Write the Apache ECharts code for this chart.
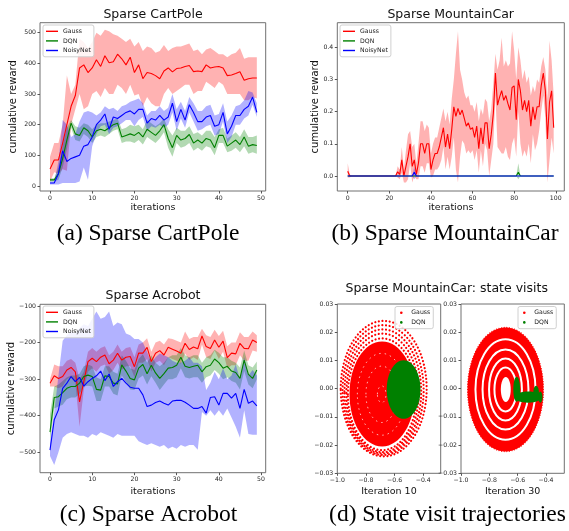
<!DOCTYPE html>
<html><head><meta charset="utf-8">
<script src="https://cdn.jsdelivr.net/npm/echarts@6/dist/echarts.min.js"></script>
<style>html,body{margin:0;padding:0;background:#fff}#c{width:569px;height:531px}</style>
</head><body><div id="c"></div>
<script>
// ---------- (a) Sparse CartPole ----------
const gaussA   = [55,85,85,140,200,260,295,385,395,370, 385,412,390,425,402,405,430,415,395,420, 370,395,350,370,367,360,350,375,385,372, 383,385,390,393,373,375,373,395,385,388, 390,385,360,362,367,373,345,350,352,352];
const gaussAHi = [95,140,140,200,360,300,330,480,470,450, 470,500,490,510,505,495,490,480,470,480, 455,470,440,455,450,435,440,460,440,450, 455,455,460,465,440,445,430,445,450,440, 430,430,420,430,435,450,415,420,420,420];
const gaussALo = [15,45,40,55,50,200,250,300,250,260, 300,310,290,320,300,300,330,320,300,330, 295,300,260,290,270,260,260,300,320,300, 310,320,330,330,300,310,310,340,330,320, 340,330,300,300,300,300,280,280,290,285];
const dqnA     = [20,20,40,90,150,205,170,165,190,180, 160,180,185,180,190,200,205,160,165,170, 165,175,160,185,175,165,180,200,155,125, 165,150,155,168,140,150,140,155,150,125, 165,165,130,140,150,135,160,130,135,132];
const dqnAHi   = [25,25,60,130,190,215,195,190,205,200, 185,200,205,205,210,215,220,185,190,200, 195,200,185,215,205,195,205,220,185,165, 190,180,180,195,170,175,165,180,180,160, 185,190,155,165,175,160,185,160,160,165];
const dqnALo   = [15,15,20,60,120,190,150,145,170,160, 140,160,165,160,170,180,185,140,145,145, 140,150,135,160,150,140,155,175,125,95, 140,125,130,140,115,125,115,130,125,100, 140,140,110,115,125,110,130,105,110,105];
const noisyA   = [10,10,40,115,80,90,95,100,130,135, 160,200,215,235,185,225,220,230,240,245, 235,250,250,205,220,215,230,215,225,270, 210,250,215,265,240,210,210,225,230,195, 200,240,170,195,230,230,250,260,290,240];
const noisyAHi = [15,15,80,215,200,160,170,210,240,245, 240,230,240,260,250,255,245,260,265,275, 280,285,270,230,245,245,260,245,255,300, 250,275,245,290,270,245,245,260,265,230, 235,270,210,230,260,265,280,310,305,270];
const noisyALo = [5,5,5,10,10,10,10,15,60,20, 130,170,195,200,170,190,195,205,215,215, 195,215,225,180,195,190,200,190,200,240, 180,220,190,240,210,180,185,195,200,165, 170,210,140,160,200,200,220,230,265,225];

// ---------- (b) Sparse MountainCar ----------
const gaussB   = [0.015,0,0,0,0,0,0,0,0,0, 0,0,0,0,0,0,0,0,0,0, 0,0,0,0,0.013,0.005,0.05,0,0.03,0.06, 0.1,0.03,0.05,0.005,0.04,0.1,0.1,0.07,0.1,0.1, 0.02,0.05,0.07,0.07,0.09,0.12,0.15,0.09,0.13,0.085, 0.145,0.215,0.185,0.21,0.19,0.205,0.18,0.155,0.165,0.145, 0.15,0.12,0.155,0.085,0.15,0.10,0.165,0.165,0.085,0.13, 0.195,0.32,0.22,0.245,0.265,0.235,0.25,0.225,0.205,0.275, 0.28,0.175,0.30,0.265,0.205,0.235,0.20,0.235,0.155,0.215, 0.175,0.215,0.215,0.28,0.32,0.265,0.115,0.23,0.265,0.15];
const gaussBHi = [0.04,0.005,0,0,0,0,0,0,0,0, 0,0,0,0,0,0,0,0,0,0, 0,0,0,0,0.03,0.02,0.09,0.02,0.08,0.13, 0.14,0.09,0.1,0.04,0.1,0.17,0.17,0.14,0.16,0.15, 0.07,0.1,0.12,0.12,0.15,0.18,0.21,0.17,0.2,0.16, 0.24,0.3,0.38,0.45,0.33,0.3,0.26,0.24,0.25,0.22, 0.22,0.2,0.23,0.17,0.21,0.19,0.24,0.23,0.17,0.21, 0.29,0.38,0.33,0.36,0.43,0.34,0.36,0.34,0.35,0.45, 0.39,0.3,0.4,0.36,0.3,0.33,0.29,0.31,0.25,0.28, 0.26,0.3,0.29,0.34,0.37,0.33,0.24,0.42,0.36,0.25];
const gaussBLo = [-0.005,-0.005,0,0,0,0,0,0,0,0, 0,0,0,0,0,0,0,0,0,0, 0,0,0,0,-0.005,-0.01,0.01,-0.02,-0.02,-0.01, 0.04,-0.02,0,-0.01,-0.01,0.03,0.03,0.01,0.04,0.04, -0.005,0,0.02,0.02,0.03,0.05,0.09,0.02,0.06,0.02, 0.06,0.12,0.02,-0.02,0.06,0.11,0.1,0.07,0.08,0.07, 0.08,0.05,0.08,0.01,0.08,0.03,0.1,0.08,0,0.05, 0.1,0.25,0.09,0.08,0.07,0.07,0.09,0.06,0.05,0.1, 0.12,0.06,0.2,0.1,0.06,0.08,0.06,0.1,0.04,0.13, 0.08,0.1,0.14,0.2,0.25,0.18,-0.02,0.05,0.12,0.07];
const dqnB     = [0,0,0,0,0,0,0,0,0,0, 0,0,0,0,0,0,0,0,0,0, 0,0,0,0,0,0,0,0,0,0, 0,0,0,0,0,0,0,0,0,0, 0,0,0,0,0,0,0,0,0,0, 0,0,0,0,0,0,0,0,0,0, 0,0,0,0,0,0,0,0,0,0, 0,0,0,0,0,0,0,0,0,0, 0,0,0.012,0,0,0,0,0,0,0, 0,0,0,0,0,0,0,0,0,0];
const dqnBHi   = [0,0,0,0,0,0,0,0,0,0, 0,0,0,0,0,0,0,0,0,0, 0,0,0,0,0,0,0,0,0,0, 0,0,0,0,0,0,0,0,0,0, 0,0,0,0,0,0,0,0,0,0, 0,0,0,0,0,0,0,0,0,0, 0,0,0,0,0,0,0,0,0,0, 0,0,0,0,0,0,0,0,0,0, 0,0,0.04,0,0,0,0,0,0,0, 0,0,0,0,0,0,0,0,0,0];
const dqnBLo   = [0,0,0,0,0,0,0,0,0,0, 0,0,0,0,0,0,0,0,0,0, 0,0,0,0,0,0,0,0,0,0, 0,0,0,0,0,0,0,0,0,0, 0,0,0,0,0,0,0,0,0,0, 0,0,0,0,0,0,0,0,0,0, 0,0,0,0,0,0,0,0,0,0, 0,0,0,0,0,0,0,0,0,0, 0,0,-0.01,0,0,0,0,0,0,0, 0,0,0,0,0,0,0,0,0,0];
const noisyB   = [0,0,0,0,0,0,0,0,0,0, 0,0,0,0,0,0,0,0,0,0, 0,0,0,0,0,0,0,0,0,0, 0,0,0.012,0,0,0,0,0,0,0, 0,0,0,0,0,0,0,0,0,0, 0,0,0,0,0,0,0,0,0,0, 0,0,0,0,0,0,0,0,0,0, 0,0,0,0,0,0,0,0,0,0, 0,0,0,0,0,0,0,0,0,0, 0,0,0,0,0,0,0,0,0,0];
const noisyBHi = [0,0,0,0,0,0,0,0,0,0, 0,0,0,0,0,0,0,0,0,0, 0,0,0,0,0,0,0,0,0,0, 0,0,0.028,0,0,0,0,0,0,0, 0,0,0,0,0,0,0,0,0,0, 0,0,0,0,0,0,0,0,0,0, 0,0,0,0,0,0,0,0,0,0, 0,0,0,0,0,0,0,0,0,0, 0,0,0,0,0,0,0,0,0,0, 0,0,0,0,0,0,0,0,0,0];
const noisyBLo = [0,0,0,0,0,0,0,0,0,0, 0,0,0,0,0,0,0,0,0,0, 0,0,0,0,0,0,0,0,0,0, 0,0,-0.01,0,0,0,0,0,0,0, 0,0,0,0,0,0,0,0,0,0, 0,0,0,0,0,0,0,0,0,0, 0,0,0,0,0,0,0,0,0,0, 0,0,0,0,0,0,0,0,0,0, 0,0,0,0,0,0,0,0,0,0, 0,0,0,0,0,0,0,0,0,0];

// ---------- (c) Sparse Acrobot ----------
const gaussC   = [-311,-291,-298,-293,-275,-268,-280,-362,-307,-252, -243,-252,-240,-234,-258,-248,-229,-248,-240,-238, -266,-229,-229,-213,-252,-229,-222,-234,-213,-218, -223,-229,-202,-219,-212,-217,-182,-211,-216,-193, -213,-196,-241,-229,-231,-202,-216,-217,-193,-200];
const gaussCHi = [-300,-260,-265,-265,-250,-245,-255,-300,-280,-225, -215,-225,-215,-210,-235,-225,-205,-225,-215,-212, -240,-205,-200,-188,-225,-200,-195,-205,-188,-190, -195,-200,-170,-190,-185,-185,-162,-180,-185,-165, -182,-168,-210,-200,-200,-172,-185,-185,-170,-180];
const gaussCLo = [-320,-320,-325,-320,-300,-295,-310,-430,-330,-280, -270,-280,-265,-260,-285,-275,-255,-275,-265,-265, -295,-255,-255,-245,-280,-255,-250,-262,-240,-245, -250,-258,-230,-248,-240,-248,-205,-240,-245,-222, -245,-225,-270,-262,-262,-235,-250,-250,-222,-225];
const dqnC     = [-445,-350,-348,-337,-325,-320,-320,-311,-293,-289, -293,-328,-330,-291,-293,-311,-313,-261,-278,-298, -302,-270,-260,-285,-262,-283,-298,-285,-270,-268, -262,-240,-265,-268,-265,-262,-280,-266,-262,-245, -255,-270,-265,-278,-282,-298,-248,-287,-298,-275];
const dqnCHi   = [-395,-320,-315,-305,-295,-290,-290,-285,-265,-260, -265,-295,-300,-265,-265,-280,-285,-235,-250,-270, -275,-245,-232,-255,-235,-255,-265,-255,-240,-235, -235,-215,-235,-240,-235,-235,-255,-240,-235,-220, -228,-240,-240,-250,-255,-268,-222,-262,-268,-252];
const dqnCLo   = [-470,-380,-375,-370,-355,-350,-350,-340,-320,-318, -320,-360,-360,-320,-320,-340,-345,-290,-308,-328, -330,-298,-290,-315,-292,-310,-330,-315,-300,-300, -295,-270,-295,-298,-295,-295,-310,-295,-290,-275, -285,-300,-295,-305,-310,-328,-278,-315,-325,-300];
const noisyC   = [-494,-411,-384,-325,-311,-293,-307,-295,-319,-307, -298,-291,-278,-304,-286,-320,-307,-298,-311,-322, -325,-325,-343,-375,-371,-364,-360,-366,-371,-360, -358,-358,-363,-371,-380,-380,-375,-393,-350,-348, -371,-339,-339,-352,-339,-380,-328,-366,-360,-373];
const noisyCHi = [-475,-390,-290,-195,-180,-170,-175,-160,-150,-155, -135,-115,-135,-130,-115,-155,-145,-150,-175,-180, -190,-190,-200,-225,-255,-240,-230,-235,-240,-250, -255,-255,-250,-240,-255,-255,-265,-330,-310,-280, -300,-270,-300,-290,-260,-300,-240,-290,-275,-290];
const noisyCLo = [-510,-535,-500,-460,-450,-445,-450,-455,-455,-460, -450,-455,-445,-450,-455,-460,-450,-455,-455,-455, -455,-470,-475,-480,-475,-480,-485,-480,-490,-485, -490,-480,-485,-480,-480,-493,-390,-400,-385,-400, -385,-400,-380,-405,-430,-460,-385,-450,-452,-452];

// ---------- (d) state visits: orbit envelopes as [centre position, centre velocity, half-width, half-height] ----------
const gauss10Rings  = [[-0.676,0.0,0.300,0.0240],[-0.680,-0.0005,0.283,0.0230],[-0.682,-0.001,0.268,0.0220],[-0.684,-0.0015,0.253,0.0210],[-0.686,-0.002,0.240,0.0198]];
const gauss10Core   = [[-0.687,-0.0019,0.228,0.0186]];
const gauss10Gaps   = [[-0.69,-0.002,0.17,0.0145],[-0.69,-0.002,0.11,0.0100],[-0.69,-0.002,0.03,0.003]];
const dqn10Region   = [[-0.537,-0.0003,0.118,0.0104]];
const gauss30Outer  = [[-0.686,-0.0003,0.268,0.0220]];
const gauss30Gaps   = [[-0.686,-0.0003,0.212,0.0178],[-0.686,-0.0003,0.162,0.0142],[-0.686,-0.0003,0.116,0.0110],[-0.686,-0.0003,0.078,0.0078]];
const gauss30Hole   = [[-0.684,-0.0003,0.035,0.0044]];
const dqn30Region   = [[-0.607,-0.0002,0.024,0.0044],[-0.527,-0.003,0.098,0.002],[-0.47,-0.0015,0.02,0.0025],[-0.44,-0.003,0.015,0.002]];

const ticksIter50 = [0,10,20,30,40,50];
const ticksIter100 = [0,20,40,60,80,100];
const ticksCart = [0,100,200,300,400,500];
const ticksMC = [0,0.1,0.2,0.3,0.4];
const ticksAcro = [-500,-400,-300,-200,-100];
const ticksPos = [-1.0,-0.8,-0.6,-0.4];
const ticksVel = [-0.03,-0.02,-0.01,0,0.01,0.02,0.03];

const RED='#ff0000', GREEN='#008000', BLUE='#0000ff';
const fillOf = {[RED]:'rgba(255,0,0,0.3)',[GREEN]:'rgba(0,128,0,0.3)',[BLUE]:'rgba(0,0,255,0.3)'};
const minus = s => String(s).replace('-', '\u2212');

function grid(l,t,w,h){return {left:l,top:t,width:w,height:h,show:true,borderColor:'#707070',borderWidth:1,backgroundColor:'rgba(0,0,0,0)',containLabel:false,outerBoundsMode:'none'};}
function axis(kind, gi, min, max, ticks, fmt){
  return {type:'value', gridIndex:gi, min:min, max:max, position: kind==='x'?'bottom':'left',
    axisLine:{show:false,onZero:false}, splitLine:{show:false},
    axisTick:{show:true,inside:false,length:2.5,lineStyle:{color:'#555',width:1},customValues:ticks},
    axisLabel:{show:true,customValues:ticks,margin:4,fontSize:6.2,fontFamily:'DejaVu Sans',color:'#262626',formatter:fmt}};
}
function lineS(name, gi, vals, color){
  return {type:'line', name:name, xAxisIndex:gi, yAxisIndex:gi, data: vals.map((v,i)=>[i,v]),
    symbol:'none', showSymbol:false, color:color, itemStyle:{color:color}, lineStyle:{color:color,width:1.1},
    silent:true, animation:false};
}
function bandS(gi, lo, hi, color){
  return {type:'custom', name:'band', xAxisIndex:gi, yAxisIndex:gi, data: lo.map((v,i)=>[i,v,hi[i]]),
    encode:{x:0,y:[1,2]}, silent:true, animation:false, clip:true,
    renderItem:function(params, api){
      if (params.dataIndex !== 0) return null;
      const pts=[];
      for (let i=0;i<hi.length;i++) pts.push(api.coord([i,hi[i]]));
      for (let i=lo.length-1;i>=0;i--) pts.push(api.coord([i,lo[i]]));
      return {type:'polygon', shape:{points:pts}, style:{fill:fillOf[color], stroke:null}};
    }};
}
function ellS(name, gi, rings, style){
  return {type:'custom', name:name, xAxisIndex:gi, yAxisIndex:gi, data:rings, encode:{x:0,y:1},
    silent:true, animation:false, clip:true, itemStyle:{color: style.fill && style.fill!=='none' ? style.fill : style.stroke},
    renderItem:function(params, api){
      const c = api.coord([api.value(0), api.value(1)]);
      const s = api.size([api.value(2), api.value(3)]);
      return {type:'ellipse', shape:{cx:c[0],cy:c[1],rx:s[0],ry:s[1]}, style:Object.assign({},style)};
    }};
}
function legend(left, top, names, icon, iw, ih, padL){
  return {show:true, left:left, top:top, orient:'vertical', padding:[1.5,3,1.5,padL], itemGap:0,
    itemWidth:iw, itemHeight:ih, icon:icon, selectedMode:false,
    borderColor:'#d0d0d0', borderWidth:1, borderRadius:2, backgroundColor:'rgba(255,255,255,0.85)',
    textStyle:{fontSize:6.2, fontFamily:'DejaVu Sans', color:'#222', lineHeight:9.6},
    data:names};
}
function txt(s, x, y, size, opts){
  opts = opts || {};
  return {type:'text', x:x, y:y, rotation:opts.rot||0, silent:true,
    style:{text:s, fontSize:size, fontFamily:opts.font||'DejaVu Sans', fill:opts.color||'#111', align:'center', verticalAlign:'middle'}};
}

const f0 = v => minus(v);
const f1 = v => minus(v.toFixed(1));
const f2 = v => minus(v.toFixed(2));

const series = [
  bandS(0,gaussALo,gaussAHi,RED), lineS('Gauss',0,gaussA,RED),
  bandS(0,dqnALo,dqnAHi,GREEN), lineS('DQN',0,dqnA,GREEN),
  bandS(0,noisyALo,noisyAHi,BLUE), lineS('NoisyNet',0,noisyA,BLUE),
  bandS(1,gaussBLo,gaussBHi,RED), lineS('Gauss',1,gaussB,RED),
  bandS(1,dqnBLo,dqnBHi,GREEN), lineS('DQN',1,dqnB,GREEN),
  bandS(1,noisyBLo,noisyBHi,BLUE), lineS('NoisyNet',1,noisyB,BLUE),
  bandS(2,gaussCLo,gaussCHi,RED), lineS('Gauss',2,gaussC,RED),
  bandS(2,dqnCLo,dqnCHi,GREEN), lineS('DQN',2,dqnC,GREEN),
  bandS(2,noisyCLo,noisyCHi,BLUE), lineS('NoisyNet',2,noisyC,BLUE),
  ellS('Gauss',3,gauss10Core,{fill:RED,stroke:null}),
  ellS('Gauss',3,gauss10Rings,{fill:'none',stroke:RED,lineWidth:2.2,lineDash:[0.01,3.6],lineCap:'round'}),
  ellS('gap',3,gauss10Gaps,{fill:'none',stroke:'#ffffff',lineWidth:0.7,lineDash:[1.5,4]}),
  ellS('DQN',3,dqn10Region,{fill:GREEN,stroke:null}),
  ellS('Gauss',4,gauss30Outer,{fill:RED,stroke:RED,lineWidth:1.2,lineDash:[0.01,2.6],lineCap:'round'}),
  ellS('gap',4,gauss30Gaps,{fill:'none',stroke:'#ffffff',lineWidth:2}),
  ellS('gap',4,gauss30Hole,{fill:'#ffffff',stroke:null}),
  ellS('DQN',4,dqn30Region,{fill:GREEN,stroke:null})
];

const option = {
  animation:false,
  backgroundColor:'#ffffff',
  grid:[grid(40,22.7,225.7,168.3), grid(337.3,22.7,227,168.3), grid(40,304.3,225.7,168.4), grid(337.3,304,103.4,169.3), grid(461,304,103.3,169.3)],
  xAxis:[axis('x',0,-2.37,51.1,ticksIter50,f0), axis('x',1,-5.0,104.1,ticksIter100,f0), axis('x',2,-2.37,51.1,ticksIter50,f0),
         axis('x',3,-1.0,-0.278,ticksPos,f1), axis('x',4,-1.0,-0.271,ticksPos,f1)],
  yAxis:[axis('y',0,-16.3,532.6,ticksCart,f0), axis('y',1,-0.0466,0.4764,ticksMC,f1), axis('y',2,-555.8,-95.4,ticksAcro,f0),
         axis('y',3,-0.03,0.03,ticksVel,f2), axis('y',4,-0.03,0.03,ticksVel,f2)],
  legend:[legend(43,25,['Gauss','DQN','NoisyNet'],'rect',12,1.4,3), legend(340,25,['Gauss','DQN','NoisyNet'],'rect',12,1.4,3),
          legend(43,306,['Gauss','DQN','NoisyNet'],'rect',12,1.4,3),
          legend(395,306.5,['Gauss','DQN'],'circle',10,2.6,5), legend(518,306.5,['Gauss','DQN'],'circle',10,2.6,5)],
  graphic:{elements:[
    txt('Sparse CartPole',153,14.3,12.5), txt('Sparse MountainCar',450.7,14.3,12.5),
    txt('Sparse Acrobot',153,296,12.5), txt('Sparse MountainCar: state visits',446.7,288.7,12.5),
    txt('iterations',153,207.5,9.5), txt('iterations',451,207.5,9.5), txt('iterations',153,491.5,9.5),
    txt('Iteration 10',389,491.5,9.5), txt('Iteration 30',512.7,491.5,9.5),
    txt('cumulative reward',13,106.9,10,{rot:Math.PI/2}), txt('cumulative reward',315,106.9,10,{rot:Math.PI/2}),
    txt('cumulative reward',11,388.5,10,{rot:Math.PI/2}),
    txt('(a) Sparse CartPole',148,233.5,23.5,{font:'Liberation Serif',color:'#000'}),
    txt('(b) Sparse MountainCar',445,233.5,23.5,{font:'Liberation Serif',color:'#000'}),
    txt('(c) Sparse Acrobot',148.5,515,23.5,{font:'Liberation Serif',color:'#000'}),
    txt('(d) State visit trajectories',447.5,515,23.5,{font:'Liberation Serif',color:'#000'})
  ]},
  series:series
};
const chart = echarts.init(document.getElementById('c'), null, {renderer:'canvas'});
chart.setOption(option);
</script></body></html>
